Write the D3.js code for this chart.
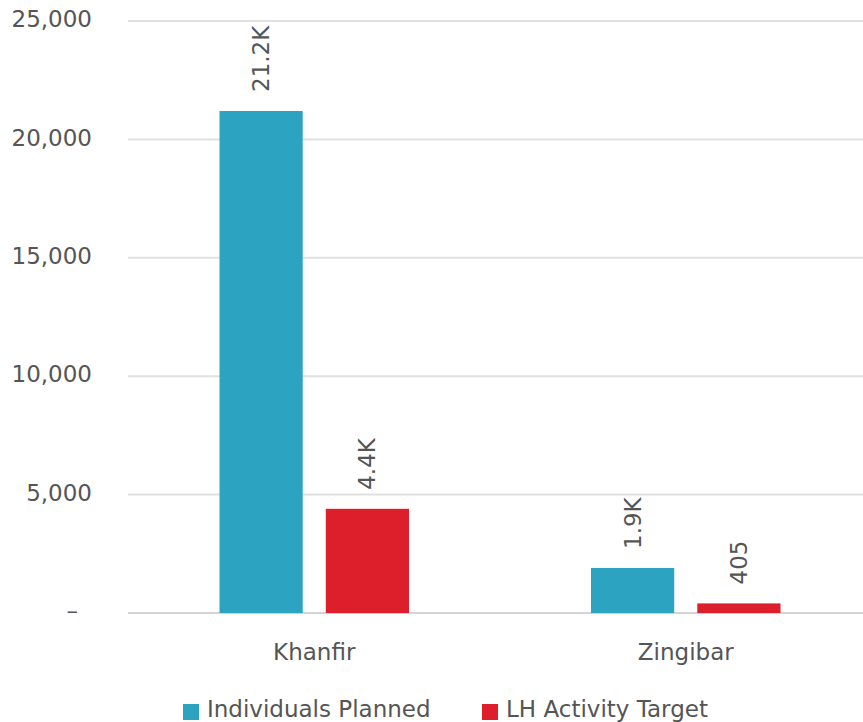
<!DOCTYPE html>
<html>
<head>
<meta charset="utf-8">
<script src="https://cdn.jsdelivr.net/npm/d3@7"></script>
<style>
  body { margin: 0; background: #fff; }
  text { font-family: "DejaVu Sans", Verdana, sans-serif; fill: #555; }
</style>
</head>
<body>
<div id="chart"></div>
<script>
// data
const districts = ["Khanfir", "Zingibar"];
const seriesNames = ["Individuals Planned", "LH Activity Target"];
const individualsPlanned = [21200, 1900];
const lhActivityTarget = [4400, 405];
const yTicks = [0, 5000, 10000, 15000, 20000, 25000];
const colors = ["#2ca3c0", "#dc1f2b"];

const width = 863, height = 722;
const svg = d3.select("#chart").append("svg")
  .attr("width", width).attr("height", height);

const x0 = d3.scaleBand().domain(districts).range([128.5, 871.5]);
const x1 = d3.scaleBand().domain(seriesNames)
  .range([91, x0.bandwidth() - 91]).paddingInner(0.217);
const y = d3.scaleLinear().domain([0, 25000]).range([613, 21]);

// grid
const grid = svg.append("g");
grid.selectAll("line").data(yTicks).enter().append("line")
  .attr("x1", 128).attr("x2", width)
  .attr("y1", d => y(d)).attr("y2", d => y(d))
  .attr("stroke", d => d === 0 ? "#d4d4d4" : "#e0e0e0")
  .attr("stroke-width", 2);

// y labels
const fmt = d3.format(",");
svg.append("g").selectAll("text").data(yTicks).enter().append("text")
  .attr("x", d => d === 0 ? 78 : 92).attr("y", d => y(d)).attr("dy", "0.27em")
  .attr("text-anchor", "end").style("font-size", "23px")
  .text(d => d === 0 ? "–" : fmt(d));

// bars
const rows = districts.map((d, i) => ({
  name: d,
  vals: [individualsPlanned[i], lhActivityTarget[i]]
}));
const groups = svg.append("g").selectAll("g").data(rows).enter().append("g")
  .attr("transform", d => `translate(${x0(d.name)},0)`);

const shortFmt = v => v >= 1000 ? d3.format(".1f")(v / 1000) + "K" : String(v);

groups.selectAll("rect").data(d => d.vals.map((v, j) => ({ v, s: seriesNames[j], j })))
  .enter().append("rect")
  .attr("x", d => x1(d.s)).attr("width", x1.bandwidth())
  .attr("y", d => y(d.v)).attr("height", d => y(0) - y(d.v))
  .attr("fill", d => colors[d.j]);

groups.selectAll("text.lbl").data(d => d.vals.map((v, j) => ({ v, s: seriesNames[j], j })))
  .enter().append("text").attr("class", "lbl")
  .attr("transform", d => `translate(${x1(d.s) + x1.bandwidth() / 2},${y(d.v) - 19}) rotate(-90)`)
  .attr("dy", "0.35em").style("font-size", "23px")
  .text(d => shortFmt(d.v));

// x labels
svg.append("g").selectAll("text").data(districts).enter().append("text")
  .attr("x", d => x0(d) + x0.bandwidth() / 2).attr("y", 660)
  .attr("text-anchor", "middle").style("font-size", "23px")
  .text(d => d);

// legend
const legX = [183, 482];
const leg = svg.append("g").selectAll("g").data(seriesNames).enter().append("g")
  .attr("transform", (d, i) => `translate(${legX[i]},700)`);
leg.append("rect").attr("x", 0).attr("y", 4).attr("width", 16).attr("height", 16)
  .attr("fill", (d, i) => colors[i]);
leg.append("text").attr("x", 24).attr("y", 17).style("font-size", "23px").text(d => d);
</script>
</body>
</html>
